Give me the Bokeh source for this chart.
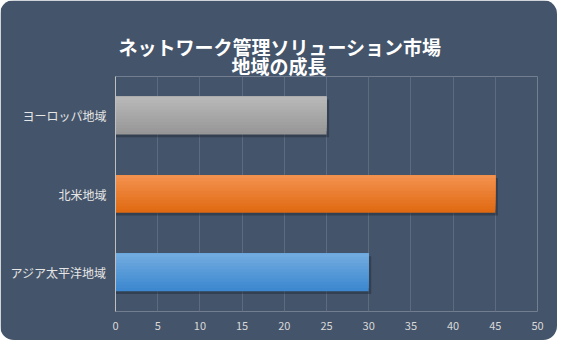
from bokeh.plotting import figure
from bokeh.models import Title, FactorRange, ColumnDataSource
from bokeh.transform import dodge
from bokeh.embed import file_html
from bokeh.resources import INLINE

# ---- data ----
regions = ["ヨーロッパ地域", "北米地域", "アジア太平洋地域"]
growth = [25, 45, 30]
top_colors = ["#B8B8B8", "#F3914E", "#71ABE0"]
bottom_colors = ["#979797", "#E06A12", "#3D88CF"]
title_line1 = "ネットワーク管理ソリューション市場"
title_line2 = "地域の成長"
x_ticks = [0, 5, 10, 15, 20, 25, 30, 35, 40, 45, 50]

BG = "#44546A"
FONT = "Noto Sans CJK JP"

p = figure(width=557, height=340, output_backend="svg", toolbar_location=None,
           y_range=FactorRange(*regions[::-1]), x_range=(0, 50),
           min_border_left=115, min_border_right=20, min_border_top=76,
           min_border_bottom=29)
p.styles = {"border-radius": "14px", "overflow": "hidden"}
p.background_fill_color = BG
p.border_fill_color = BG
p.outline_line_color = None

# titles (line 2 added first -> nearest the plot), placed to be centred on the panel
p.add_layout(Title(text=title_line2, align="left", offset=116, text_font=FONT,
                   text_font_style="bold", text_font_size="19px", text_color="#FFFFFF",
                   standoff=-4), "above")
p.add_layout(Title(text=title_line1, align="left", offset=3, text_font=FONT,
                   text_font_style="bold", text_font_size="19px", text_color="#FFFFFF",
                   standoff=-17), "above")

# grid
p.ygrid.grid_line_color = None
p.xgrid.grid_line_color = "#5C6B80"
p.xgrid.grid_line_width = 1
p.xgrid.ticker = x_ticks

# x axis
p.xaxis.ticker = x_ticks
p.xaxis.axis_line_color = None
p.xaxis.major_tick_line_color = None
p.xaxis.minor_tick_line_color = None
p.xaxis.major_tick_out = 0
p.xaxis.major_label_standoff = 10
p.xaxis.major_label_text_color = "#D9D9D9"
p.xaxis.major_label_text_font = FONT
p.xaxis.major_label_text_font_size = "11px"

# y axis
p.yaxis.axis_line_color = "#BFBFBF"
p.yaxis.axis_line_width = 1
p.yaxis.major_tick_line_color = None
p.yaxis.minor_tick_line_color = None
p.yaxis.major_tick_out = 0
p.yaxis.major_label_standoff = 9
p.yaxis.major_label_text_color = "#E6E6E6"
p.yaxis.major_label_text_font = FONT
p.yaxis.major_label_text_font_size = "12px"

# bars with shadow and vertical gradient (nested, top-anchored layers)
N = 12
H = 0.48
data = dict(region=regions, growth=growth, shadow=[g + 0.3 for g in growth])


def hex2rgb(h):
    return tuple(int(h[i:i + 2], 16) for i in (1, 3, 5))


for i in range(N):
    t = 1 - i / (N - 1)
    cols = []
    for a, b in zip(top_colors, bottom_colors):
        ra, rb = hex2rgb(a), hex2rgb(b)
        cols.append("#%02X%02X%02X" % tuple(round(x + (y - x) * t) for x, y in zip(ra, rb)))
    data["c%d" % i] = cols
src = ColumnDataSource(data)

p.hbar(y=dodge("region", -0.035, range=p.y_range), left=0, right="shadow", height=H,
       source=src, fill_color="#1E2733", fill_alpha=0.45, line_color=None)
for i in range(N):
    h = H * (N - i) / N
    off = H / 2 - h / 2
    p.hbar(y=dodge("region", off, range=p.y_range), left=0, right="growth",
           height=h, source=src, fill_color="c%d" % i, line_color=None)

open("out.html", "w").write(file_html(p, INLINE))
